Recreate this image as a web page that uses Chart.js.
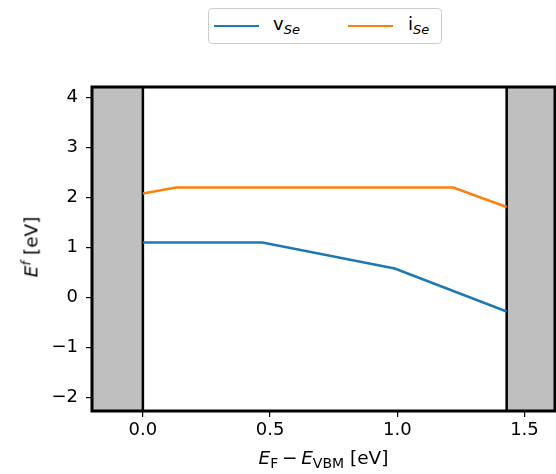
<!DOCTYPE html>
<html><head><meta charset="utf-8">
<script src="https://cdn.jsdelivr.net/npm/chart.js@4/dist/chart.umd.min.js"></script>
<style>
html,body{margin:0;padding:0;background:#fff;}
#wrap{position:relative;width:556px;height:474px;font-family:"DejaVu Sans",sans-serif;color:#000;}
canvas{position:absolute;left:0;top:0;}
#legend{position:absolute;left:208px;top:8px;width:232px;height:34px;border:1px solid #ccc;border-radius:4px;background:#fff;font-size:18px;}
.sw{position:absolute;top:16px;width:45px;height:0;border-top:2.5px solid;}
.lt{position:absolute;top:3px;white-space:nowrap;line-height:24px;}
sub,sup{font-size:13px;}
sub{vertical-align:-4px;font-style:italic;}
#xt{position:absolute;left:92px;width:463px;top:447px;line-height:22px;text-align:center;font-size:18.5px;white-space:nowrap;}
#xt sub{font-size:14px;}
#yt{position:absolute;left:30px;top:247px;transform:translate(-50%,-50%) rotate(-90deg);font-size:18.5px;white-space:nowrap;}
</style></head>
<body><div id="wrap"><canvas id="c" width="556" height="474"></canvas>
<div id="legend">
 <div class="sw" style="left:5px;border-color:#1f77b4"></div><div class="lt" style="left:64px">v<sub>Se</sub></div>
 <div class="sw" style="left:139px;border-color:#ff7f0e"></div><div class="lt" style="left:199px">i<sub>Se</sub></div>
</div>
<div id="xt"><i>E</i><sub style="font-style:normal">F</sub>&#8201;−&#8201;<i>E</i><sub style="font-style:normal">VBM</sub> [eV]</div>
<div id="yt"><i>E</i><sup><i>f</i></sup> [eV]</div>
</div>
<script>
const seriesNames = ['vSe', 'iSe'];
const vSeX = [0, 0.47, 0.99, 1.43];
const vSeY = [1.10, 1.10, 0.58, -0.28];
const iSeX = [0, 0.13, 1.22, 1.43];
const iSeY = [2.08, 2.20, 2.20, 1.81];
const bandGap = 1.43;
const xTicks = [0, 0.5, 1.0, 1.5];
const yTicks = [-2, -1, 0, 1, 2, 3, 4];
const xRange = [-0.2, 1.62];
const yRange = [-2.27, 4.21];

const toPts = (xs, ys) => xs.map((x, i) => ({x, y: ys[i]}));

const shade = {
  id: 'shade',
  beforeDatasetsDraw(chart) {
    const {ctx, chartArea: a, scales: {x}} = chart;
    const x0 = x.getPixelForValue(0), x1 = x.getPixelForValue(bandGap);
    ctx.save();
    ctx.fillStyle = '#bfbfbf';
    ctx.fillRect(a.left, a.top, x0 - a.left, a.bottom - a.top);
    ctx.fillRect(x1, a.top, a.right - x1, a.bottom - a.top);
    ctx.strokeStyle = '#000'; ctx.lineWidth = 2.5;
    ctx.beginPath();
    ctx.moveTo(x0, a.top); ctx.lineTo(x0, a.bottom);
    ctx.moveTo(x1, a.top); ctx.lineTo(x1, a.bottom);
    ctx.stroke();
    ctx.restore();
  },
  afterDraw(chart) {
    const {ctx, chartArea: a} = chart;
    ctx.save();
    ctx.strokeStyle = '#000'; ctx.lineWidth = 3;
    ctx.strokeRect(a.left, a.top, a.right - a.left, a.bottom - a.top);
    ctx.restore();
  }
};

new Chart(document.getElementById('c'), {
  type: 'line',
  data: {
    datasets: [
      {label: seriesNames[0], data: toPts(vSeX, vSeY), borderColor: '#1f77b4', borderWidth: 2.5, pointRadius: 0, fill: false, tension: 0},
      {label: seriesNames[1], data: toPts(iSeX, iSeY), borderColor: '#ff7f0e', borderWidth: 2.5, pointRadius: 0, fill: false, tension: 0}
    ]
  },
  options: {
    responsive: false, animation: false, devicePixelRatio: 1,
    layout: {padding: {left: 0, top: 87, right: 1, bottom: 0}},
    plugins: {legend: {display: false}, tooltip: {enabled: false}},
    scales: {
      x: {
        type: 'linear', min: xRange[0], max: xRange[1],
        afterBuildTicks: s => { s.ticks = xTicks.map(v => ({value: v})); },
        afterFit: s => { s.height = 63; },
        ticks: {color: '#000', font: {family: 'DejaVu Sans', size: 18}, padding: 3, maxRotation: 0,
          callback: v => v.toFixed(1)},
        grid: {drawOnChartArea: false, drawTicks: true, tickLength: 6, color: '#000', lineWidth: 1.2},
        border: {display: false}
      },
      y: {
        type: 'linear', min: yRange[0], max: yRange[1],
        afterBuildTicks: s => { s.ticks = yTicks.map(v => ({value: v})); },
        afterFit: s => { s.width = 92; },
        ticks: {color: '#000', font: {family: 'DejaVu Sans', size: 18}, padding: 8,
          callback: v => (v < 0 ? '\u2212' + Math.abs(v) : String(v))},
        grid: {drawOnChartArea: false, drawTicks: true, tickLength: 6, color: '#000', lineWidth: 1.2},
        border: {display: false}
      }
    }
  },
  plugins: [shade]
});
</script></body></html>
